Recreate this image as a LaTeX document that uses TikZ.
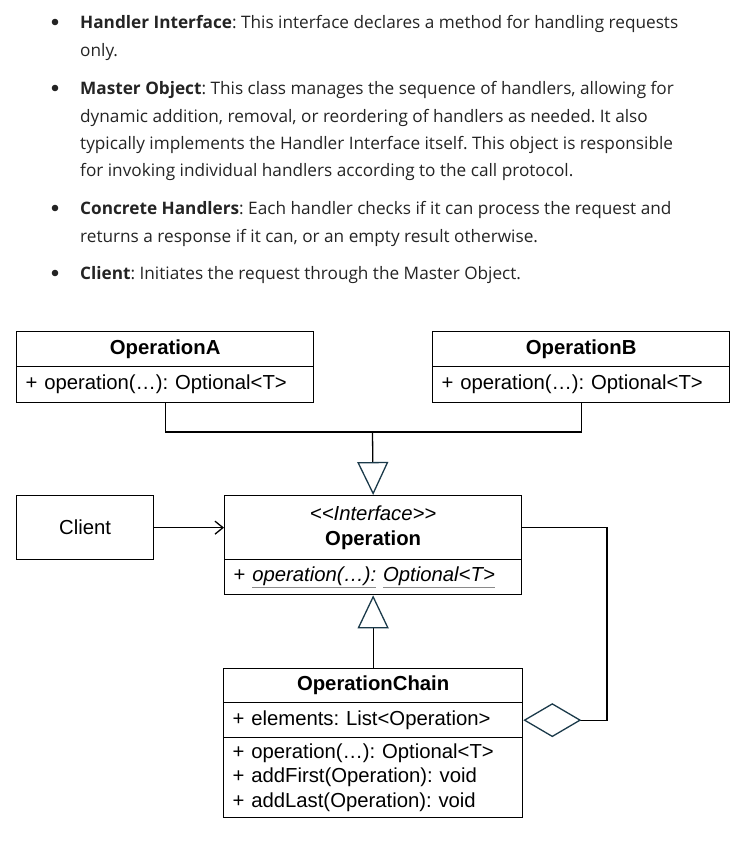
\documentclass[tikz,border=0pt]{standalone}
\usepackage{fontspec}
\setmainfont{Liberation Sans}
\newfontfamily\uifont{Open Sans}
\usetikzlibrary{arrows.meta}
\definecolor{txt}{HTML}{242424}
\definecolor{tipc}{HTML}{1B3A4A}
\definecolor{ulc}{HTML}{8A8A8A}
\newcommand{\grayul}[1]{{\color{ulc}\underline{\color{black}#1}}}
\frenchspacing
\tikzset{
  cls/.style={draw=black, line width=1.3pt, inner sep=0pt, anchor=north west, font=\fontsize{20.3}{24.5}\selectfont},
  clsl/.style={cls, align=left, text width=279pt, inner xsep=9pt},
  conn/.style={draw=black, line width=1.3pt},
  gen/.style={-{Triangle[open, length=33pt, width=31pt, color=tipc]}},
  agg/.style={{Diamond[open, length=58pt, width=34pt, color=tipc]}-},
  bul/.style={anchor=base west, font=\uifont\fontsize{17.2}{20}\selectfont, text=txt, inner sep=0pt},
}
\begin{document}
\begin{tikzpicture}[x=1pt,y=-1pt]
\useasboundingbox (0,0) rectangle (754,855);
% bullets
\foreach \yy in {22,88,208,273} \fill[txt] (55,\yy) circle (3.3pt);
\node[bul] (t1) at (80,28) {\bfseries Handler Interface\mdseries: This interface declares a method for handling requests};
\node[bul] (t2) at (80,56) {only.};
\node[bul] (t3) at (80,94) {\bfseries Master Object\mdseries: This class manages the sequence of handlers, allowing for};
\node[bul] (t4) at (80,122) {dynamic addition, removal, or reordering of handlers as needed. It also};
\node[bul] (t5) at (80,149) {typically implements the Handler Interface itself. This object is responsible};
\node[bul] (t6) at (80,176) {for invoking individual handlers according to the call protocol.};
\node[bul] (t7) at (80,214) {\bfseries Concrete Handlers\mdseries: Each handler checks if it can process the request and};
\node[bul] (t8) at (80,242) {returns a response if it can, or an empty result otherwise.};
\node[bul] (t9) at (80,279) {\bfseries Client\mdseries: Initiates the request through the Master Object.};

% OperationA
\node[cls, minimum width=297pt, minimum height=35pt] (opA) at (16,331) {\bfseries OperationA};
\node[clsl, minimum height=36pt] (opAb) at (16,366) {+ operation(…): Optional<T>};
% OperationB
\node[cls, minimum width=297pt, minimum height=35pt] (opB) at (432,331) {\bfseries OperationB};
\node[clsl, minimum height=36pt] (opBb) at (432,366) {+ operation(…): Optional<T>};
% Client
\node[cls, minimum width=137pt, minimum height=64pt] (client) at (16,495) {Client};
% Operation
\node[cls, minimum width=297pt, minimum height=64pt, align=center] (opH) at (224,495) {\itshape <{}<Interface>{}>\\[0pt]\bfseries Operation};
\node[clsl, minimum height=35pt] (opHb) at (224,559) {+ \grayul{\itshape operation(…):} \grayul{\itshape Optional<T>}};
% OperationChain
\node[cls, minimum width=299pt, minimum height=34pt] (ch) at (223,668) {\bfseries OperationChain};
\node[clsl, text width=281pt, minimum height=35pt] (chE) at (223,702) {+ elements: List<Operation>};
\node[clsl, text width=281pt, minimum height=80pt] (chM) at (223,737) {+ operation(…): Optional<T>\\+ addFirst(Operation): void\\+ addLast(Operation): void};

% connectors
\coordinate (j) at (372.5,432);
\draw[conn] (opAb.south) -- (opAb.south |- j) -- (opBb.south |- j) -- (opBb.south);
\draw[conn, gen] (j) -- (opH.north);
\draw[conn, gen] (ch.north) -- (opHb.south);
\draw[conn, -{Straight Barb[length=8pt, width=13pt]}] (client.east) -- (opH.west);
\coordinate (r) at (607,0);
\draw[conn, agg] (chE.east) -- (chE.east -| r) -- (opH.east -| r) -- (opH.east);
\end{tikzpicture}
\end{document}
